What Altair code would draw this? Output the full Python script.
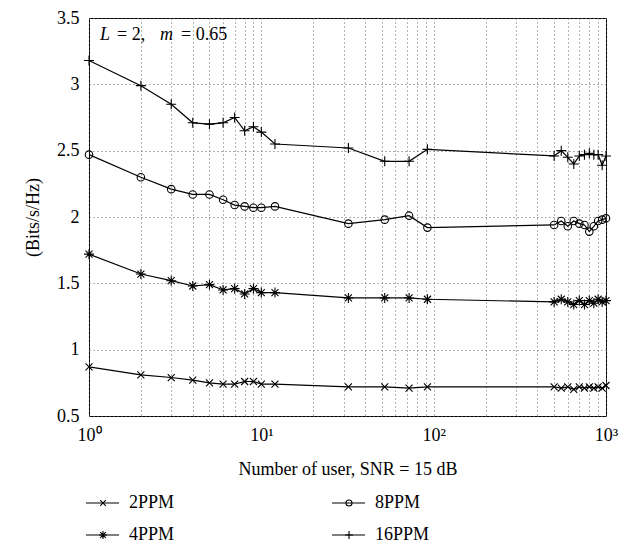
import altair as alt
import pandas as pd

# ---------------- data ----------------
users = [1, 2, 3, 4, 5, 6, 7, 8, 9, 10, 12, 32, 52, 72, 92,
         500, 550, 600, 650, 700, 750, 800, 850, 900, 950, 1000]
series_names = ["2PPM", "4PPM", "8PPM", "16PPM"]
ppm2 = [0.87, 0.81, 0.79, 0.77, 0.75, 0.74, 0.74, 0.76, 0.76, 0.74, 0.74, 0.72, 0.72, 0.71, 0.72,
        0.72, 0.71, 0.72, 0.70, 0.72, 0.71, 0.72, 0.71, 0.72, 0.71, 0.73]
ppm4 = [1.72, 1.57, 1.52, 1.48, 1.49, 1.45, 1.46, 1.42, 1.46, 1.43, 1.43, 1.39, 1.39, 1.39, 1.38,
        1.36, 1.38, 1.36, 1.34, 1.37, 1.34, 1.37, 1.35, 1.38, 1.36, 1.37]
ppm8 = [2.47, 2.30, 2.21, 2.17, 2.17, 2.13, 2.09, 2.08, 2.07, 2.07, 2.08, 1.95, 1.98, 2.01, 1.92,
        1.94, 1.97, 1.93, 1.97, 1.95, 1.94, 1.89, 1.93, 1.97, 1.98, 1.99]
ppm16 = [3.18, 2.99, 2.85, 2.71, 2.70, 2.71, 2.75, 2.65, 2.68, 2.64, 2.55, 2.52, 2.42, 2.42, 2.51,
         2.46, 2.50, 2.45, 2.40, 2.46, 2.47, 2.48, 2.47, 2.47, 2.39, 2.46]
x_grid = [1, 2, 3, 4, 5, 6, 7, 8, 9, 10, 20, 30, 40, 50, 60, 70, 80, 90,
          100, 200, 300, 400, 500, 600, 700, 800, 900, 1000]
y_ticks = [0.5, 1.0, 1.5, 2.0, 2.5, 3.0, 3.5]
legend_cols = [0, 0, 1, 1]
legend_rows = [0, 1, 0, 1]

rows = []
for name, vals in zip(series_names, [ppm2, ppm4, ppm8, ppm16]):
    for u, v in zip(users, vals):
        rows.append({"users": u, "rate": v, "series": name})
df = pd.DataFrame(rows)

FONT = "Liberation Serif"
FS = 18

shape_paths = [
    "M-0.7,-0.7L0.7,0.7M-0.7,0.7L0.7,-0.7",
    "M-1,0L1,0M0,-1L0,1M-0.7,-0.7L0.7,0.7M-0.7,0.7L0.7,-0.7",
    "M-0.75,0A0.75,0.75 0 1,0 0.75,0A0.75,0.75 0 1,0 -0.75,0Z",
    "M-1,0L1,0M0,-1L0,1",
]
shape_scale = alt.Scale(domain=series_names, range=shape_paths)

W, H = 517, 398

x_enc = alt.X(
    "users:Q",
    scale=alt.Scale(type="log", domain=[1, 1000], nice=False),
    axis=alt.Axis(
        values=x_grid,
        labelExpr="datum.value == 1 ? '10⁰' : datum.value == 10 ? '10¹' : datum.value == 100 ? '10²' : datum.value == 1000 ? '10³' : ''",
        title="Number of user, SNR = 15 dB",
        labelOverlap=False,
        labelFlush=False,
        tickSize=0,
        labelPadding=10,
        titlePadding=16,
        grid=True,
        gridDash=[1, 3],
        gridColor="#666666",
        domain=False,
    ),
)
y_enc = alt.Y(
    "rate:Q",
    scale=alt.Scale(domain=[0.5, 3.5], nice=False, zero=False),
    axis=alt.Axis(
        values=y_ticks,
        format="~g",
        title="(Bits/s/Hz)",
        tickSize=0,
        labelPadding=10,
        titlePadding=14,
        grid=True,
        gridDash=[1, 3],
        gridColor="#666666",
        domain=False,
    ),
)

base = alt.Chart(df)
lines = base.mark_line(color="black", strokeWidth=1.2).encode(
    x=x_enc, y=y_enc, detail="series:N"
)
points = base.mark_point(filled=False, color="black", strokeWidth=1.1, size=100, opacity=1).encode(
    x="users:Q", y="rate:Q",
    shape=alt.Shape("series:N", scale=shape_scale, legend=None),
)

one = pd.DataFrame({"a": [0]})
ann_pieces = [("L", "italic", 11), ("= 2,", "normal", 28), ("m", "italic", 71), ("= 0.65", "normal", 92)]
ann_layers = []
for txt, style, xpos in ann_pieces:
    ann_layers.append(
        alt.Chart(one).mark_text(
            text=txt, font=FONT, fontSize=FS, fontStyle=style, align="left",
            baseline="middle", color="black"
        ).encode(x=alt.value(xpos), y=alt.value(17))
    )

main = alt.layer(lines, points, *ann_layers).properties(
    width=W, height=H, view=alt.ViewBackground(stroke="black", strokeWidth=1)
)

# ---------------- legend ----------------
leg_df = pd.DataFrame({"series": series_names, "col": legend_cols, "row": legend_rows})
lbase = alt.Chart(leg_df).transform_calculate(
    x0="datum.col*246 - 3",
    x1="datum.col*246 + 30",
    xm="datum.col*246 + 14",
    xt="datum.col*246 + 40",
    yy="datum.row*32 + 8",
)
lrule = lbase.mark_rule(color="black", strokeWidth=1.2).encode(
    x=alt.X("x0:Q", scale=None, axis=None),
    x2="x1:Q",
    y=alt.Y("yy:Q", scale=None, axis=None),
)
lpts = lbase.mark_point(filled=False, color="black", strokeWidth=1.1, size=64, opacity=1).encode(
    x=alt.X("xm:Q", scale=None, axis=None),
    y=alt.Y("yy:Q", scale=None, axis=None),
    shape=alt.Shape("series:N", scale=shape_scale, legend=None),
)
ltxt = lbase.mark_text(align="left", baseline="middle", font=FONT, fontSize=FS, color="black").encode(
    x=alt.X("xt:Q", scale=None, axis=None),
    y=alt.Y("yy:Q", scale=None, axis=None),
    text="series:N",
)
legend_chart = alt.layer(lrule, lpts, ltxt).properties(
    width=W, height=40, view=alt.ViewBackground(stroke="transparent")
)

chart = alt.vconcat(main, legend_chart, spacing=14).resolve_scale(
    x="independent", y="independent", shape="shared"
).properties(
    padding={"left": 16, "top": 0, "right": 5, "bottom": 0},
    background="white",
).configure_axis(
    labelFont=FONT, titleFont=FONT, labelFontSize=FS, titleFontSize=FS,
    titleFontWeight="normal", labelColor="black", titleColor="black",
)

chart.save("out.html", embed_options={"renderer": "svg", "actions": False})
